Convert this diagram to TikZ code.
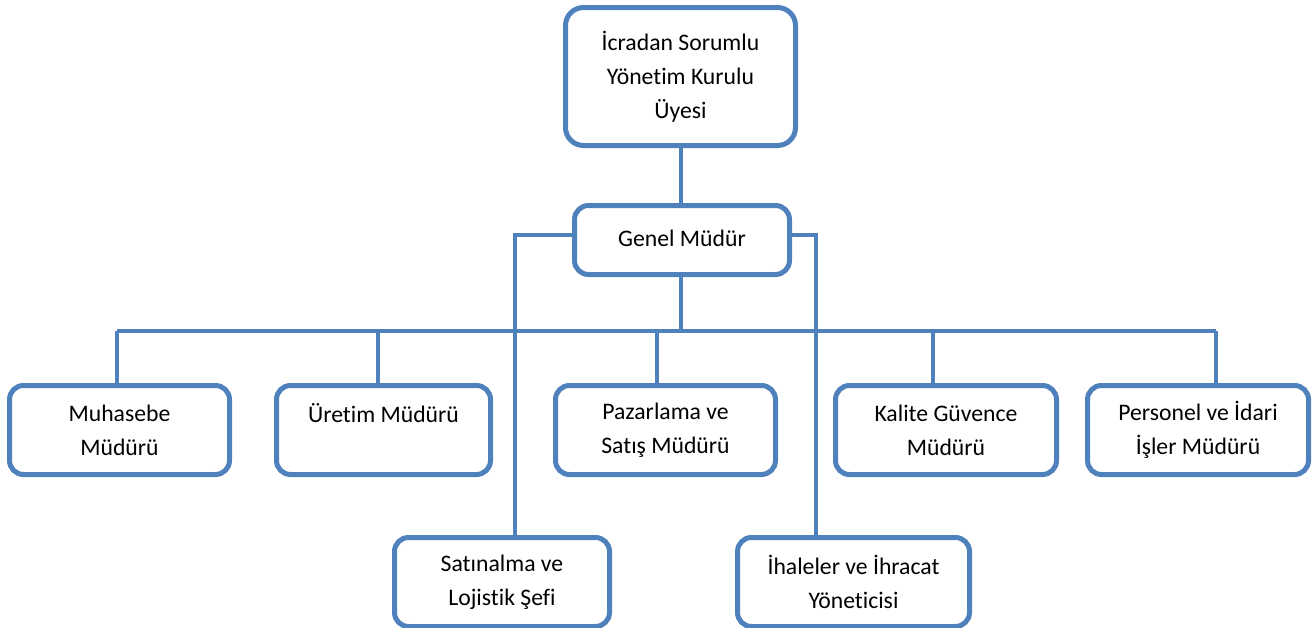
\documentclass[tikz,border=0pt]{standalone}
\usepackage{fontspec}
\setmainfont[Ligatures=NoCommon]{Carlito}
\definecolor{obl}{HTML}{4F81BD}
\begin{document}
\begin{tikzpicture}[x=1pt,y=-1pt,
  box/.style={draw=obl,line width=5pt,rounded corners=14pt,fill=white,align=center,
    inner sep=0pt,minimum height=89pt,font=\fontsize{23.7}{34}\selectfont},
  conn/.style={draw=obl,line width=3.3pt}]
\clip (0,0) rectangle (1314,627);
\fill[white] (0,0) rectangle (1314,627);
\coordinate (bus) at (681,331);
\coordinate (b1) at (117,331);
\coordinate (b2) at (378,331);
\coordinate (b3) at (657,331);
\coordinate (b4) at (933,331);
\coordinate (b5) at (1216,331);
\coordinate (sL) at (515,235);
\coordinate (sR) at (816,235);
\node[box,minimum width=230pt,minimum height=138pt,rounded corners=18pt] (top) at (680.5,76.5) {İcradan Sorumlu\\Yönetim Kurulu\\Üyesi};
\node[box,minimum width=215pt,minimum height=69pt] (gen) at (682,240) {\raisebox{4pt}{Genel Müdür}};
\node[box,minimum width=220pt] (muh) at (119.5,430) {Muhasebe\\Müdürü};
\node[box,minimum width=214pt] (ure) at (383.5,430) {Üretim Müdürü\\\phantom{M}};
\node[box,minimum width=220pt] (paz) at (665.5,430) {Pazarlama ve\\Satış Müdürü};
\node[box,minimum width=221pt] (kal) at (946,430) {Kalite Güvence\\Müdürü};
\node[box,minimum width=221pt] (per) at (1198,430) {Personel ve İdari\\İşler Müdürü};
\node[box,minimum width=215pt] (sat) at (502,582) {Satınalma ve\\Lojistik Şefi};
\node[box,minimum width=232pt] (iha) at (853.5,582) {İhaleler ve İhracat\\Yöneticisi};
\draw[conn] (top.south -| bus) -- (gen.north -| bus);
\draw[conn] (gen.south -| bus) -- (bus);
\draw[conn] (b1) -- (b5);
\draw[conn] (b1) -- (b1 |- muh.north);
\draw[conn] (b2) -- (b2 |- ure.north);
\draw[conn] (b3) -- (b3 |- paz.north);
\draw[conn] (b4) -- (b4 |- kal.north);
\draw[conn] (b5) -- (b5 |- per.north);
\draw[conn] (gen.west |- sL) -- (sL) -- (sL |- sat.north);
\draw[conn] (gen.east |- sR) -- (sR) -- (sR |- iha.north);
\end{tikzpicture}
\end{document}
